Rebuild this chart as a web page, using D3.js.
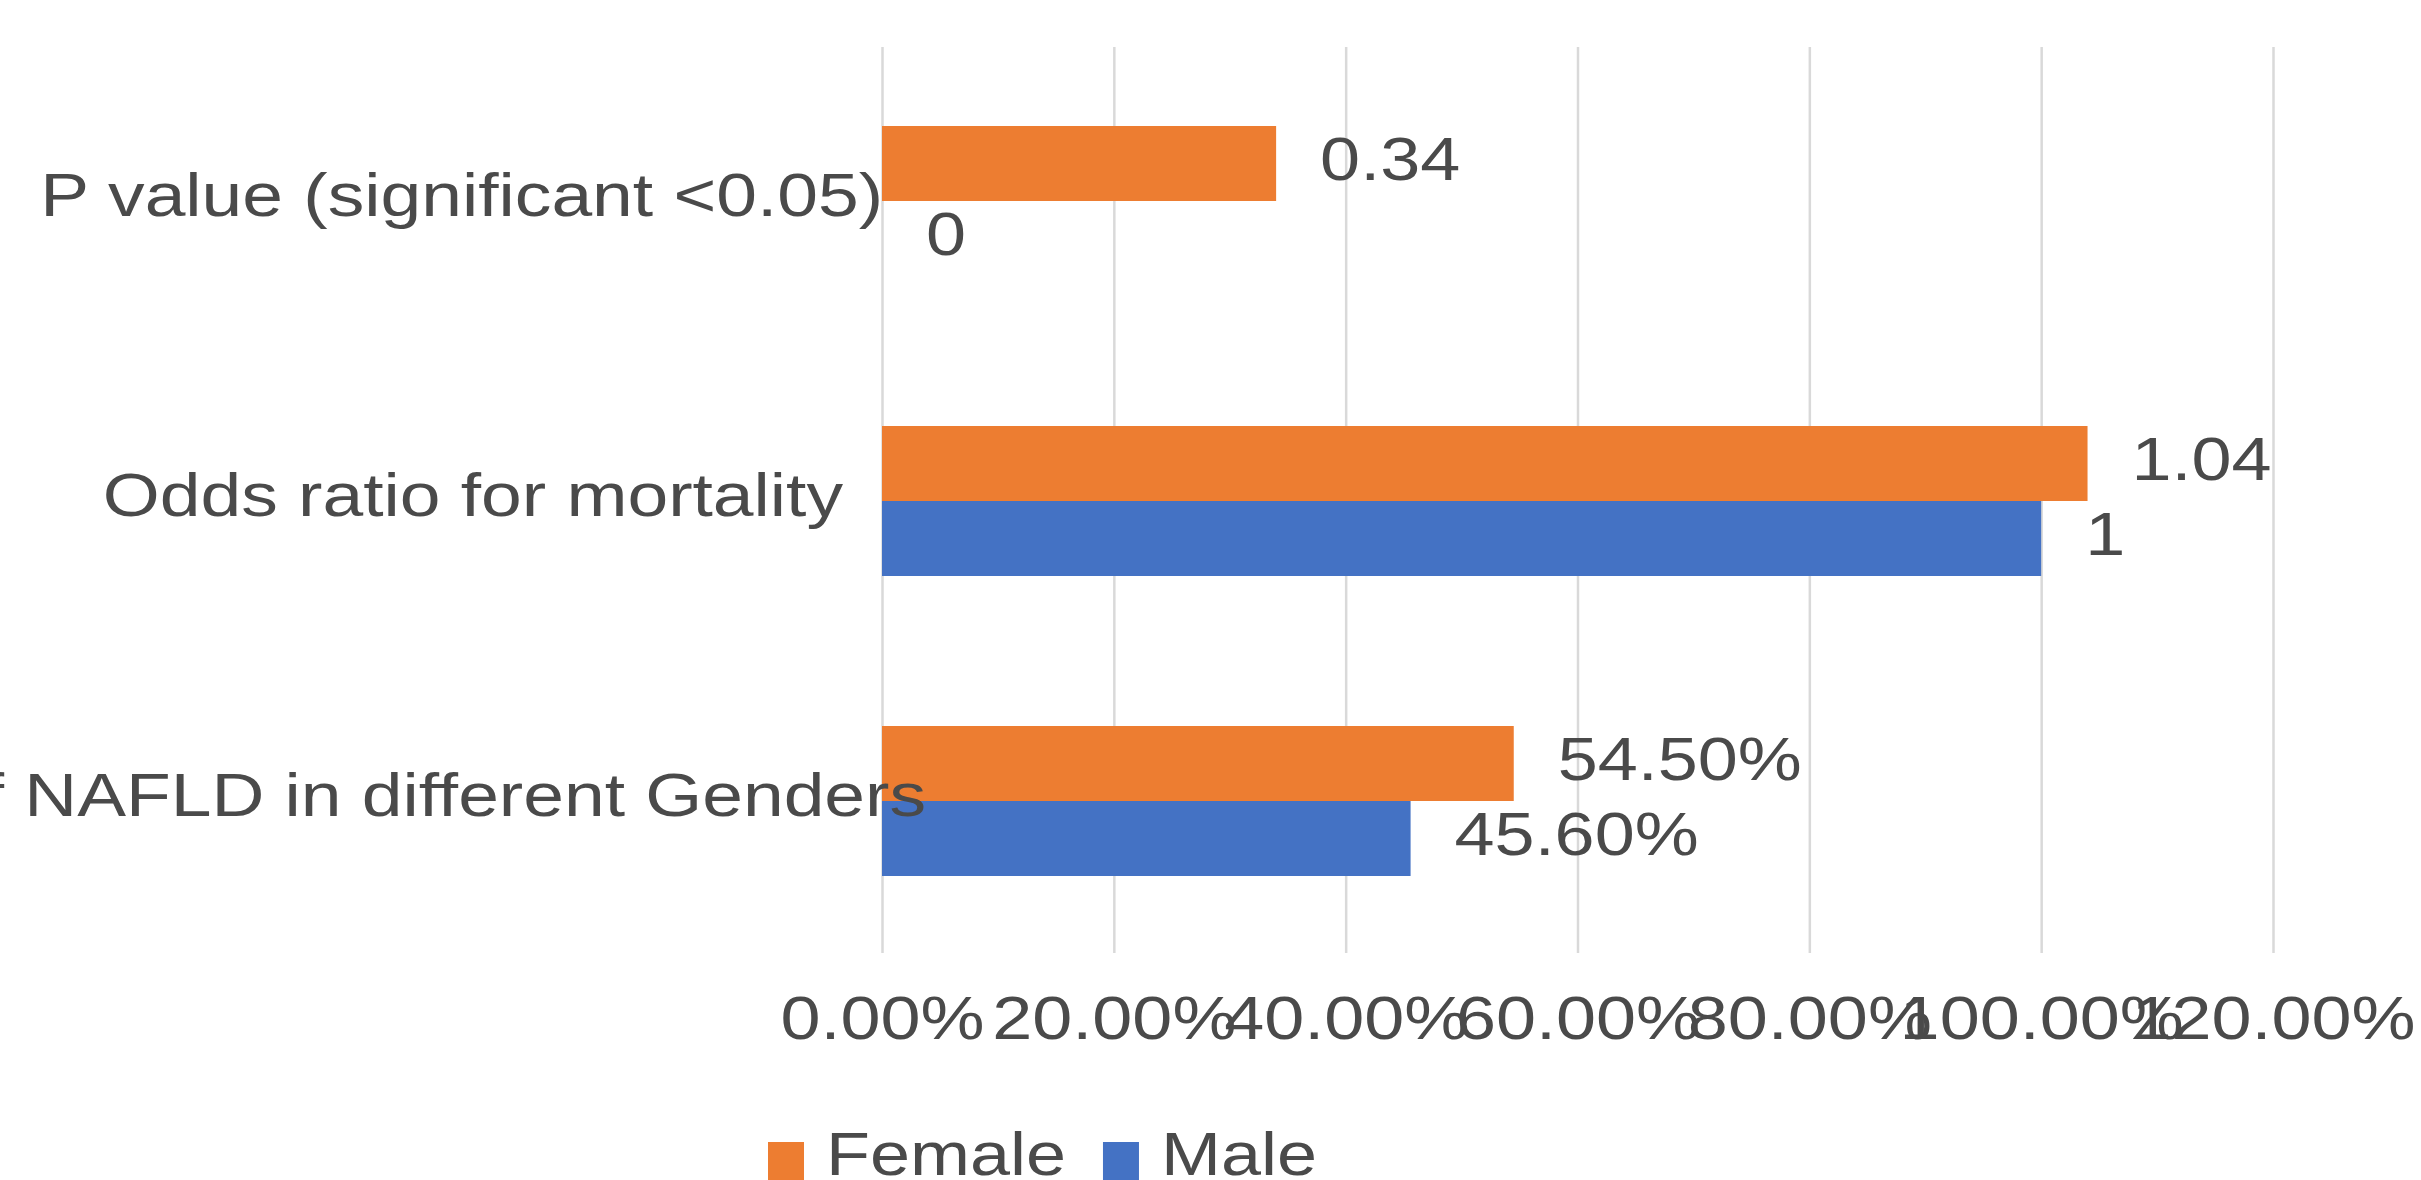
<!DOCTYPE html>
<html>
<head>
<meta charset="utf-8">
<script src="https://cdn.jsdelivr.net/npm/d3@7/dist/d3.min.js"></script>
<style>
  html, body { margin: 0; padding: 0; background: #ffffff; overflow: hidden; }
  svg { display: block; }
  text { font-family: "Liberation Sans", Arial, Helvetica, sans-serif; fill: #4a4a4a; }
</style>
</head>
<body>
<svg id="chart" width="2421" height="1180"></svg>
<script>
// Categories, top to bottom
const categories = [
  "P value (significant <0.05)",
  "Odds ratio for mortality",
  "Prevalence of NAFLD in different Genders"
];
// How each category's value labels are written
const labelFormats = ["plain", "plain", "percent"];

const seriesNames = ["Female", "Male"];
const femaleValues = [0.34, 1.04, 0.545];
const maleValues = [0, 1, 0.456];

const xTickValues = [0, 0.2, 0.4, 0.6, 0.8, 1.0, 1.2];

const colors = { Female: "#ED7D31", Male: "#4472C4" };

// ---- layout ----
const W = 2421, H = 1180;
const plotLeft = 882, plotRight = 2273;
const plotTop = 47, plotBottom = 953;
const fontSize = 61;
const stretch = 1.18;               // the chart's type is set slightly wide
const catStretch = 1.2;
const labelShift = [1, -39, 44];    // small per-row offsets of the category labels

const svg = d3.select("#chart");

const x = d3.scaleLinear().domain([0, 1.2]).range([plotLeft, plotRight]);
const y = d3.scaleBand().domain(categories).range([51, 951])
  .paddingInner(0.5).paddingOuter(0.25);
const ySub = d3.scaleBand().domain(seriesNames).range([0, y.bandwidth()]);

// vertical gridlines + percent tick labels from the bottom axis
const xAxis = d3.axisBottom(x)
  .tickValues(xTickValues)
  .tickFormat(d3.format(".2%"))
  .tickSize(-(plotBottom - plotTop))
  .tickPadding(43);

const gx = svg.append("g")
  .attr("transform", `translate(0,${plotBottom})`)
  .call(xAxis);
gx.select(".domain").remove();
gx.selectAll(".tick line").attr("stroke", "#D9D9D9").attr("stroke-width", 2.5);
gx.selectAll(".tick text")
  .attr("font-size", fontSize)
  .attr("fill", "#4a4a4a")
  .attr("font-family", '"Liberation Sans", Arial, sans-serif')
  .attr("transform", `scale(${stretch},1)`);

// rows of data
const rows = categories.map((c, i) => ({
  category: c,
  format: labelFormats[i],
  values: [
    { series: "Female", value: femaleValues[i] },
    { series: "Male", value: maleValues[i] }
  ]
}));

const fmt = (f, v) => f === "percent" ? d3.format(".2%")(v) : String(v);

const groups = svg.append("g").selectAll("g.row")
  .data(rows)
  .join("g")
  .attr("class", "row")
  .attr("transform", d => `translate(0,${y(d.category)})`);

groups.selectAll("rect")
  .data(d => d.values)
  .join("rect")
  .attr("x", x(0))
  .attr("y", d => ySub(d.series))
  .attr("width", d => x(d.value) - x(0))
  .attr("height", ySub.bandwidth())
  .attr("fill", d => colors[d.series]);

// value labels beside each bar
groups.selectAll("text.value")
  .data(d => d.values.map(v => ({ ...v, format: d.format })))
  .join("text")
  .attr("class", "value")
  .attr("font-size", fontSize)
  .attr("transform", d =>
    `translate(${x(d.value) + 44},${ySub(d.series) + ySub.bandwidth() / 2 + 16}) scale(${stretch},1)`)
  .attr("text-anchor", "start")
  .text(d => fmt(d.format, d.value));

// category labels on the left
svg.append("g").selectAll("text.cat")
  .data(categories)
  .join("text")
  .attr("class", "cat")
  .attr("font-size", fontSize)
  .attr("text-anchor", "end")
  .attr("transform", (d, i) =>
    `translate(${x(0) + labelShift[i]},${y(d) + y.bandwidth() / 2 + 15}) scale(${catStretch},1)`)
  .text(d => d);

// legend along the bottom
const legend = svg.append("g").attr("transform", "translate(768,0)");
let lx = 0;
seriesNames.forEach(name => {
  legend.append("rect")
    .attr("x", lx).attr("y", 1142)
    .attr("width", 36).attr("height", 38)
    .attr("fill", colors[name]);
  const t = legend.append("text")
    .attr("font-size", fontSize)
    .attr("transform", `translate(${lx + 58},1175) scale(${stretch},1)`)
    .text(name);
  lx += 58 + t.node().getComputedTextLength() * stretch + 37;
});
</script>
</body>
</html>
